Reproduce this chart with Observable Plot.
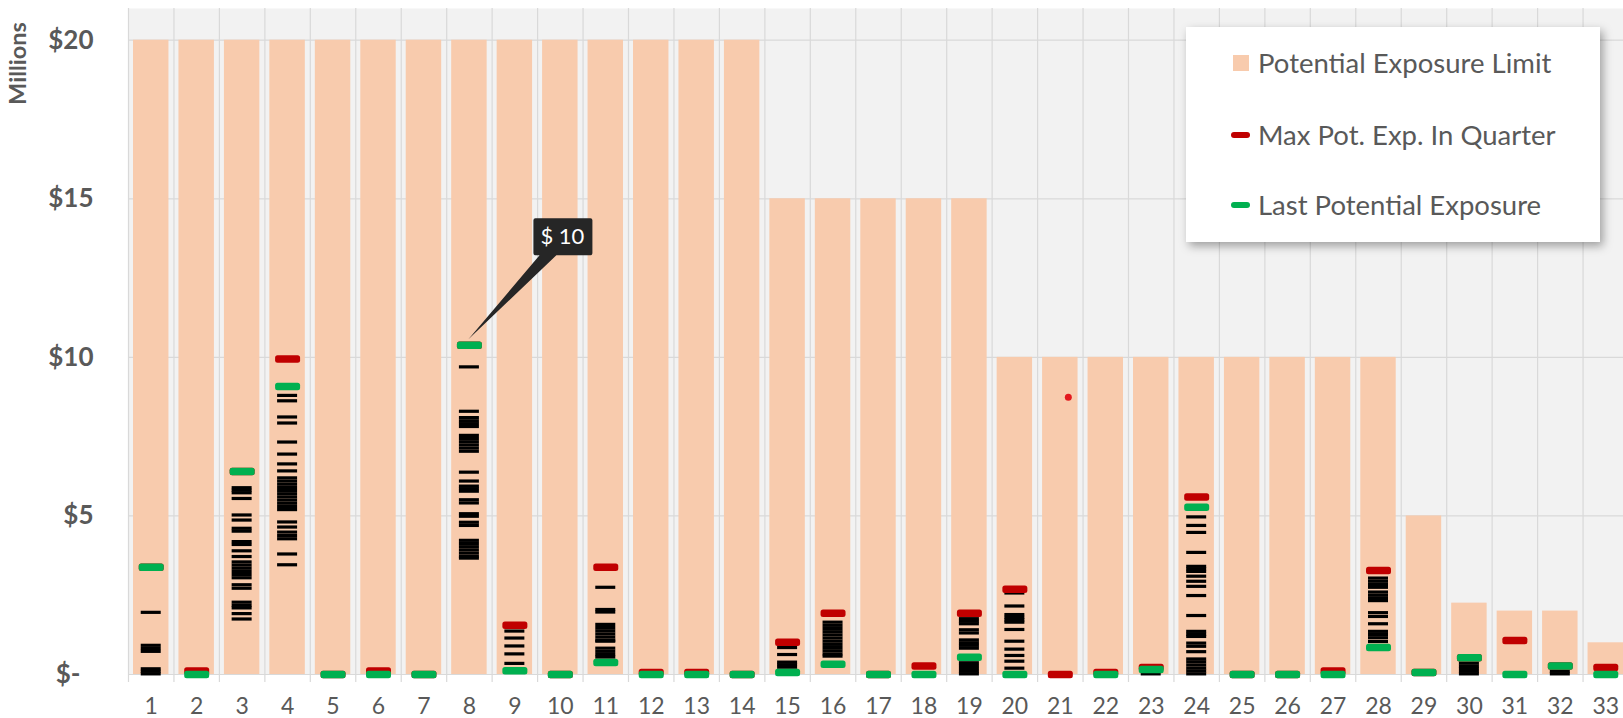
<!DOCTYPE html>
<html><head><meta charset="utf-8">
<script src="https://cdn.jsdelivr.net/npm/d3@7"></script>
<script src="https://cdn.jsdelivr.net/npm/@observablehq/plot@0.6"></script>
<style>
html,body{margin:0;padding:0;background:#fff;overflow:hidden;}
#wrap{position:relative;width:1623px;height:718px;overflow:hidden;font-family:Lato,"Open Sans",sans-serif;}
#legend{position:absolute;left:1186px;top:27px;width:414px;height:215px;background:#fff;box-shadow:3px 4px 9px rgba(0,0,0,.35);}
.sw{position:absolute;}
.lt{position:absolute;left:72px;color:#595959;font-size:27.5px;line-height:34px;height:34px;white-space:nowrap;}
g[aria-label="callout"]{filter:drop-shadow(2px 3px 3px rgba(0,0,0,.45));}
</style></head><body><div id="wrap"><div id="legend"></div></div>
<script>
const categories = ["1","2","3","4","5","6","7","8","9","10","11","12","13","14","15","16","17","18","19","20","21","22","23","24","25","26","27","28","29","30","31","32","33"];
const exposureLimit = [20,20,20,20,20,20,20,20,20,20,20,20,20,20,15,15,15,15,15,10,10,10,10,10,10,10,10,10,5,2.25,2,2,1];
const maxPotExp = [3.38,0.11,6.4,9.95,0,0.11,0,10.38,1.55,0,3.38,0.06,0.06,0,1.02,1.93,0,0.27,1.93,2.69,0,0.06,0.22,5.6,0,0,0.11,3.28,0.06,0.53,1.07,0.27,0.22];
const lastPotExp = [3.38,0,6.4,9.08,0,0,0,10.38,0.12,0,0.38,0,0,0,0.06,0.32,0,0,0.54,0,null,0,0.16,5.27,0,0,0,0.85,0.06,0.53,0,0.27,0];
const dashValues = [
 [1.96,0.92,0.82,0.73,0.18,0.1,0.02],
 [],
 [5.89,5.81,5.73,5.55,5.03,4.87,4.61,4.52,4.19,4.1,3.9,3.72,3.55,3.45,3.35,3.25,3.15,3.05,2.83,2.72,2.28,2.18,2.1,1.92,1.75],
 [8.8,8.63,8.12,7.93,7.33,6.95,6.64,6.42,6.2,6.1,6.0,5.9,5.8,5.7,5.6,5.5,5.4,5.3,5.2,4.81,4.65,4.49,4.38,4.28,3.8,3.46],
 [],[],[],
 [9.7,8.3,8.1,8.0,7.91,7.82,7.54,7.44,7.34,7.24,7.14,7.04,6.38,6.1,5.94,5.86,5.78,5.51,5.41,5.07,4.99,4.8,4.7,4.23,4.13,4.03,3.93,3.83,3.73,3.67],
 [1.37,1.15,0.9,0.65,0.35],
 [],
 [2.75,2.05,1.97,1.58,1.48,1.38,1.28,1.18,1.08,1.05,0.83,0.73,0.63,0.55],
 [],[],[],
 [0.85,0.63,0.39,0.31,0.23],
 [1.65,1.55,1.45,1.35,1.25,1.15,1.05,0.95,0.85,0.75,0.65,0.58],
 [],[],
 [1.76,1.68,1.6,1.41,1.31,1.09,1.0,0.92,0.83,0.37,0.28,0.19,0.1,0.02],
 [2.57,2.16,1.89,1.8,1.72,1.65,1.42,1.05,0.8,0.6,0.42,0.2],
 [],[],
 [0.02],
 [4.97,4.7,4.48,3.85,3.41,3.33,3.25,3.1,2.94,2.78,2.49,1.86,1.36,1.27,1.2,0.99,0.89,0.72,0.49,0.4,0.3,0.2,0.11,0.02],
 [],[],[],
 [3.04,2.94,2.84,2.75,2.6,2.5,2.41,2.33,1.95,1.83,1.6,1.36,1.26,1.16,1.04],
 [],
 [0.36,0.27,0.19,0.1,0.02],
 [],
 [0.1,0.02],
 []
];
const outlierCats = ["21"];
const outlierValues = [8.74];
const calloutCats = ["8"];
const yTicks = [0,5,10,15,20];
const legendLabels = ["Potential Exposure Limit","Max Pot. Exp. In Quarter","Last Potential Exposure"];

const colLimit = "#F8CBAD", colMax = "#C00000", colLast = "#00B050", colText = "#595959", colGrid = "#D9D9D9";

const W = 1623, H = 718, mL = 128, mT = 8, mB = 44;
const xRange = [128, 1628];
const step = (xRange[1] - xRange[0]) / categories.length;
const padIn = 0.22, padOut = 0.11;
const bw = step * (1 - padIn);

const bars = categories.map((c, i) => ({cat: c, v: exposureLimit[i]}));
const maxes = categories.map((c, i) => ({cat: c, v: maxPotExp[i]})).filter(d => d.v != null);
const lasts = categories.map((c, i) => ({cat: c, v: lastPotExp[i]})).filter(d => d.v != null);
const dashes = categories.flatMap((c, i) => dashValues[i].map(v => ({cat: c, v})));
const outliers = outlierCats.map((c, i) => ({cat: c, v: outlierValues[i]}));
const callouts = calloutCats.map(c => ({cat: c, v: lastPotExp[categories.indexOf(c)]}));

function roundRect(ctx, x, y, w, h, r) {
  ctx.moveTo(x + r, y);
  ctx.arcTo(x + w, y, x + w, y + h, r);
  ctx.arcTo(x + w, y + h, x, y + h, r);
  ctx.arcTo(x, y + h, x, y, r);
  ctx.arcTo(x, y, x + w, y, r);
  ctx.closePath();
}
const markerSymbol = {draw(ctx) { roundRect(ctx, -12.5, -3.75, 25, 7.5, 2.5); }};
const calloutSymbol = {draw(ctx) {
  roundRect(ctx, 64, -127, 59, 37, 2);
  ctx.moveTo(71, -91); ctx.lineTo(88, -91); ctx.lineTo(-1, -6); ctx.closePath();
}};

const chart = Plot.plot({
  width: W, height: H,
  marginLeft: mL, marginRight: 0, marginTop: mT, marginBottom: mB,
  style: {fontFamily: "Lato, 'Open Sans', sans-serif", background: "white", overflow: "hidden"},
  x: {type: "band", domain: categories, range: xRange, paddingInner: padIn, paddingOuter: padOut, round: false, axis: null},
  y: {domain: [0, 21], axis: null},
  marks: [
    Plot.frame({fill: "#F2F2F2", stroke: null}),
    Plot.ruleY(yTicks, {y: d => d, stroke: colGrid, strokeWidth: 1.2}),
    Plot.ruleX(categories, {x: d => d, dx: -step / 2, stroke: colGrid, strokeWidth: 1.2, insetBottom: -8}),
    Plot.barY(bars, {x: "cat", y: "v", fill: colLimit}),
    Plot.tickY(dashes, {x: "cat", y: "v", stroke: "black", strokeWidth: 3.2, inset: (bw - 20) / 2}),
    Plot.dot(maxes, {x: "cat", y: "v", symbol: markerSymbol, fill: colMax, stroke: null}),
    Plot.dot(lasts, {x: "cat", y: "v", symbol: markerSymbol, fill: colLast, stroke: null}),
    Plot.dot(outliers, {x: "cat", y: "v", r: 3.5, fill: "#E3191E", stroke: null, dx: 8}),
    Plot.dot(callouts, {x: "cat", y: "v", symbol: calloutSymbol, fill: "#262626", stroke: null, ariaLabel: "callout"}),
    Plot.text(callouts, {x: "cat", y: "v", text: d => "$ " + Math.round(d.v), dx: 93, dy: -108, fill: "white", fontSize: 22}),
    Plot.text(yTicks, {y: d => d, text: d => d === 0 ? "$-\u2002" : "$" + d, frameAnchor: "left", dx: -35, textAnchor: "end", fontSize: 26, fontWeight: "bold", fill: colText}),
    Plot.text(categories, {x: d => d, text: d => d, frameAnchor: "bottom", dy: 32, lineAnchor: "middle", fontSize: 23, fill: colText}),
    Plot.text(["Millions"], {text: d => d, frameAnchor: "top-left", dx: -110, dy: 55, rotate: -90, textAnchor: "middle", lineAnchor: "middle", fontSize: 23.5, fontWeight: "bold", fill: colText})
  ]
});
const wrap = document.getElementById("wrap");
wrap.insertBefore(chart, wrap.firstChild);

// legend
const legend = document.getElementById("legend");
const rows = [36, 108, 178];
legendLabels.forEach((label, i) => {
  const sw = document.createElement("div");
  sw.className = "sw";
  if (i === 0) {
    Object.assign(sw.style, {left: "47px", top: (rows[i] - 8) + "px", width: "16px", height: "16px", background: colLimit});
  } else {
    Object.assign(sw.style, {left: "45px", top: (rows[i] - 3) + "px", width: "19px", height: "6px", borderRadius: "3px", background: i === 1 ? colMax : colLast});
  }
  legend.appendChild(sw);
  const t = document.createElement("div");
  t.className = "lt";
  t.style.top = (rows[i] - 17) + "px";
  t.textContent = label;
  legend.appendChild(t);
});
</script>
</body></html>
